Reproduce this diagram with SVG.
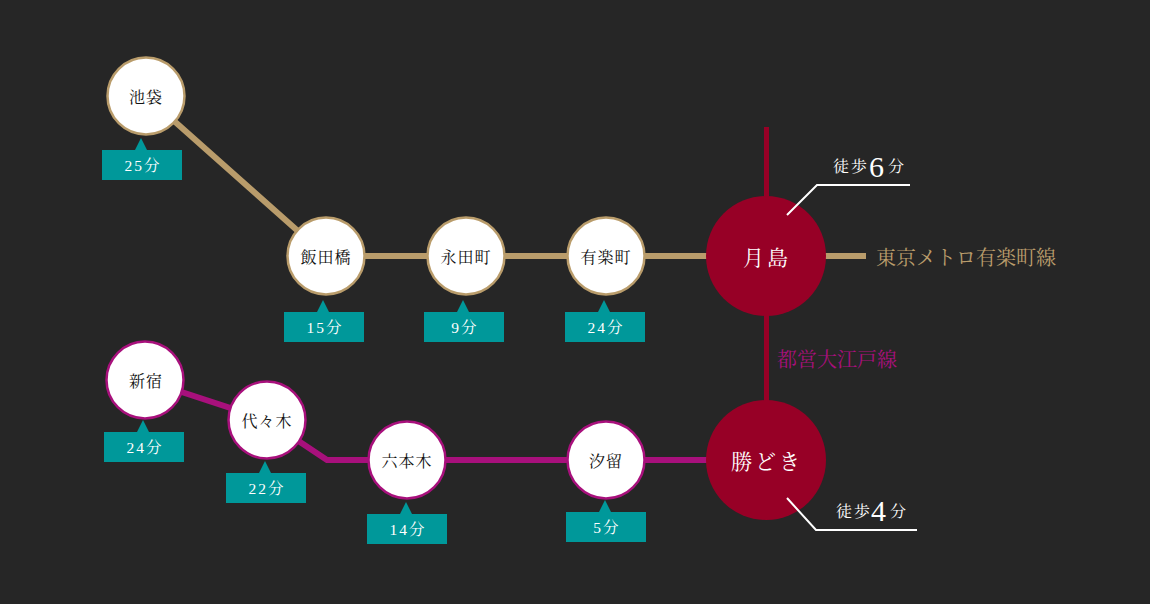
<svg xmlns="http://www.w3.org/2000/svg" width="1150" height="604" viewBox="0 0 1150 604">
<style>
.bg{fill:#262626}
.tan{stroke:#b99c6b;stroke-width:6;fill:none}
.oedo{stroke:#a8107c;stroke-width:6;fill:none}
.red{stroke:#970026;stroke-width:5;fill:none}
.walk{stroke:#ffffff;stroke-width:2;fill:none}
.stT{fill:#ffffff;stroke:#b99c6b;stroke-width:2.5}
.stO{fill:#ffffff;stroke:#a8107c;stroke-width:2.5}
.big{fill:#970026}
.box{fill:#00989a}
.jp{font-family:"Noto Serif CJK JP","Noto Sans CJK JP",serif}
.name{font-size:16px;fill:#111111;text-anchor:middle;letter-spacing:1px}
.bigname{font-size:21px;fill:#ffffff;text-anchor:middle;letter-spacing:3px}
.min{font-family:"Liberation Serif","Noto Serif CJK JP","Noto Sans CJK JP",serif;font-size:15.5px;fill:#ffffff;text-anchor:middle;letter-spacing:2px}
.lineT{font-size:20px;fill:#b99c6b}
.lineO{font-size:20px;fill:#a8107c}
.wk{font-size:16px;fill:#ffffff}
.num{font-family:"Liberation Serif",serif;font-size:30px;fill:#ffffff}
</style>
<rect class="bg" x="0" y="0" width="1150" height="604"/>

<g id="connectors">
  <line class="red" x1="766.5" y1="127" x2="766.5" y2="460"/>
  <polyline class="tan" points="146,96 326,256 866,256"/>
  <polyline class="oedo" points="145,380 267,420 327,460 766,460"/>
</g>

<g id="ikebukuro">
  <circle class="stT" cx="146" cy="96" r="38.5"/>
  <text class="jp name" x="146" y="96" dominant-baseline="central">池袋</text>
  <polygon class="box" points="135,150 141,138 147,150"/>
  <rect class="box" x="102" y="150" width="80" height="30"/>
  <text class="min" x="143" y="170.5">25分</text>
</g>
<g id="iidabashi">
  <circle class="stT" cx="326" cy="256" r="38.5"/>
  <text class="jp name" x="326" y="256" dominant-baseline="central">飯田橋</text>
  <polygon class="box" points="317,312 323,300 329,312"/>
  <rect class="box" x="284" y="312" width="80" height="30"/>
  <text class="min" x="325" y="332.5">15分</text>
</g>
<g id="nagatacho">
  <circle class="stT" cx="466" cy="256" r="38.5"/>
  <text class="jp name" x="466" y="256" dominant-baseline="central">永田町</text>
  <polygon class="box" points="457,312 463,300 469,312"/>
  <rect class="box" x="424" y="312" width="80" height="30"/>
  <text class="min" x="465" y="332.5">9分</text>
</g>
<g id="yurakucho">
  <circle class="stT" cx="606" cy="256" r="38.5"/>
  <text class="jp name" x="606" y="256" dominant-baseline="central">有楽町</text>
  <polygon class="box" points="598,312 604,300 610,312"/>
  <rect class="box" x="565" y="312" width="80" height="30"/>
  <text class="min" x="606" y="332.5">24分</text>
</g>
<g id="tsukishima">
  <circle class="big" cx="766" cy="256" r="60"/>
  <text class="jp bigname" x="767" y="256" dominant-baseline="central">月島</text>
  <polyline class="walk" points="787,215 817,185 910,185"/>
  <text class="jp wk" x="833" y="172">徒</text>
  <text class="jp wk" x="851" y="172">歩</text>
  <text class="num" x="869" y="177">6</text>
  <text class="jp wk" x="888" y="172">分</text>
</g>
<g id="yurakucho-line-label">
  <text class="jp lineT" x="876" y="256" dominant-baseline="central">東京メトロ有楽町線</text>
</g>
<g id="oedo-line-label">
  <text class="jp lineO" x="777" y="358" dominant-baseline="central">都営大江戸線</text>
</g>

<g id="shinjuku">
  <circle class="stO" cx="145" cy="380" r="38.5"/>
  <text class="jp name" x="146" y="380" dominant-baseline="central">新宿</text>
  <polygon class="box" points="137,432 143,420 149,432"/>
  <rect class="box" x="104" y="432" width="80" height="30"/>
  <text class="min" x="145" y="452.5">24分</text>
</g>
<g id="yoyogi">
  <circle class="stO" cx="267" cy="420" r="38.5"/>
  <text class="jp name" x="267" y="420" dominant-baseline="central">代々木</text>
  <polygon class="box" points="259,473 265,461 271,473"/>
  <rect class="box" x="226" y="473" width="80" height="30"/>
  <text class="min" x="267" y="493.5">22分</text>
</g>
<g id="roppongi">
  <circle class="stO" cx="407" cy="460" r="38.5"/>
  <text class="jp name" x="407" y="460" dominant-baseline="central" letter-spacing="2">六本木</text>
  <polygon class="box" points="400,514 406,502 412,514"/>
  <rect class="box" x="367" y="514" width="80" height="30"/>
  <text class="min" x="408" y="534.5">14分</text>
</g>
<g id="shiodome">
  <circle class="stO" cx="606" cy="460" r="38.5"/>
  <text class="jp name" x="606" y="460" dominant-baseline="central">汐留</text>
  <polygon class="box" points="599,512 605,500 611,512"/>
  <rect class="box" x="566" y="512" width="80" height="30"/>
  <text class="min" x="607" y="532.5">5分</text>
</g>
<g id="kachidoki">
  <circle class="big" cx="766" cy="460" r="60"/>
  <text class="jp bigname" x="767" y="460" dominant-baseline="central">勝どき</text>
  <polyline class="walk" points="787,498 816,530 917,530"/>
  <text class="jp wk" x="836" y="517">徒</text>
  <text class="jp wk" x="854" y="517">歩</text>
  <text class="num" x="871" y="521">4</text>
  <text class="jp wk" x="890" y="517">分</text>
</g>
</svg>
